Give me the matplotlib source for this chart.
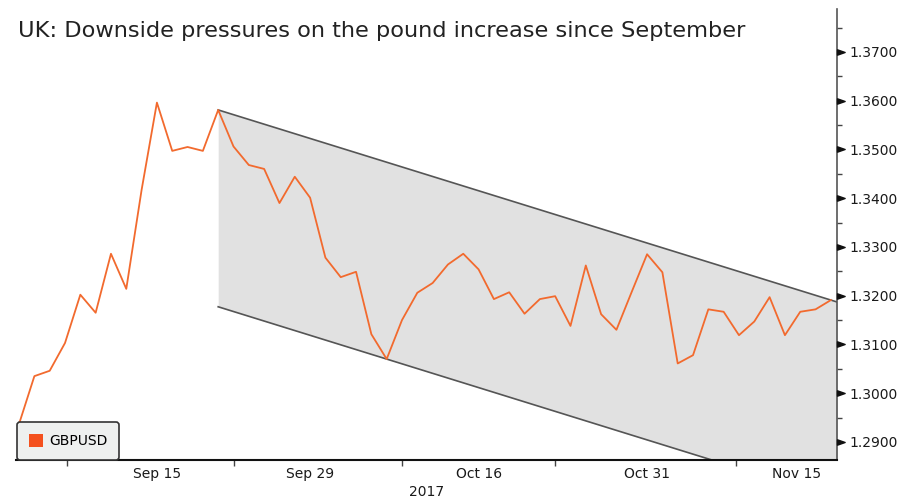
import matplotlib
matplotlib.use('Agg')
import matplotlib.pyplot as plt
import matplotlib.transforms as mtransforms
from matplotlib.path import Path
from matplotlib.patches import Patch
import numpy as np
import pandas as pd

# ---------------- data ----------------
dates = pd.bdate_range('2017-09-04', periods=54)
gbpusd = [1.2937, 1.3035, 1.3046, 1.3103, 1.3202, 1.3165, 1.3286, 1.3214, 1.3417, 1.3596,
          1.3497, 1.3505, 1.3497, 1.3581, 1.3506, 1.3468, 1.3460, 1.3390, 1.3444, 1.3401,
          1.3278, 1.3238, 1.3249, 1.3121, 1.3070, 1.3150, 1.3206, 1.3226, 1.3264, 1.3286,
          1.3254, 1.3193, 1.3207, 1.3163, 1.3193, 1.3199, 1.3138, 1.3262, 1.3162, 1.3130,
          1.3208, 1.3285, 1.3248, 1.3061, 1.3078, 1.3172, 1.3167, 1.3119, 1.3147, 1.3197,
          1.3119, 1.3167, 1.3172, 1.3191]
channel_start = '2017-09-21'
label_dates = ['2017-09-15', '2017-09-29', '2017-10-16', '2017-10-31', '2017-11-15']
label_texts = ['Sep 15', 'Sep 29', 'Oct 16', 'Oct 31', 'Nov 15']
sep_ticks = [3.1, 14.0, 25.0, 35.0, 46.8]
y_major = [1.29, 1.30, 1.31, 1.32, 1.33, 1.34, 1.35, 1.36, 1.37]
y_minor = [1.2950, 1.3050, 1.3150, 1.3250, 1.3350, 1.3450, 1.3550, 1.3650, 1.3750]
title = 'UK: Downside pressures on the pound increase since September'
series_name = 'GBPUSD'

# ---------------- figure ----------------
W, H = 912, 501
fig = plt.figure(figsize=(W / 100, H / 100), dpi=100)
ax = fig.add_axes([16 / W, 1 - 460 / H, (837 - 16) / W, (460 - 9) / H])

x = np.arange(len(gbpusd))
y = np.array(gbpusd)
xmin, xmax = -0.2, 53.4
ax.set_xlim(xmin, xmax)
ax.set_ylim(1.2863, 1.3788)

# channel: resistance from channel start to last close, parallel support through lowest residual
i0 = dates.get_loc(pd.Timestamp(channel_start))
i1 = len(y) - 1
slope = (y[i1] - y[i0]) / (i1 - i0)
seg_x = x[i0:]
resid = y[i0:] - (y[i0] + slope * (seg_x - i0))
offset = resid.min()
cx = np.array([i0, xmax])
upper = y[i0] + slope * (cx - i0)
lower = upper + offset
ax.fill_between(cx, lower, upper, color='#e1e1e1', zorder=1, lw=0)
ax.plot(cx, upper, color='#555555', lw=1.2, zorder=2)
ax.plot(cx, lower, color='#555555', lw=1.2, zorder=2)

# series
ax.plot(x, y, color='#f26a2e', lw=1.3, zorder=3)

# spines
for s in ['left', 'top']:
    ax.spines[s].set_visible(False)
ax.spines['right'].set_color('#555555')
ax.spines['right'].set_linewidth(1.2)
ax.spines['bottom'].set_color('#111111')
ax.spines['bottom'].set_linewidth(1.5)

# y axis (right)
ax.yaxis.tick_right()
ax.set_yticks(y_major)
ax.set_yticklabels([f'{v:.4f}' for v in y_major])
ax.set_yticks(y_minor, minor=True)
ax.tick_params(axis='y', which='major', length=0, pad=8.8, labelsize=10, labelcolor='#1a1a1a')
ax.tick_params(axis='y', which='minor', length=3.6, width=1.0, color='#444444')
tri = Path([(0, -0.35), (1, 0), (0, 0.35), (0, -0.35)],
           [Path.MOVETO, Path.LINETO, Path.LINETO, Path.CLOSEPOLY])
trans = mtransforms.blended_transform_factory(ax.transAxes, ax.transData)
ax.plot(np.ones(len(y_major)), y_major, transform=trans, marker=tri, ms=11,
        ls='none', color='#111111', clip_on=False, zorder=5)

# x axis
label_pos = [dates.get_loc(pd.Timestamp(d)) for d in label_dates]
ax.set_xticks(label_pos)
ax.set_xticklabels(label_texts)
ax.set_xticks(sep_ticks, minor=True)
ax.tick_params(axis='x', which='major', length=0, pad=5, labelsize=10, labelcolor='#1a1a1a')
ax.tick_params(axis='x', which='minor', length=4, width=1.0, color='#444444')
lab = ax.get_xticklabels()[-1]
lab.set_transform(lab.get_transform() + mtransforms.ScaledTranslation(-19 / 100, 0, fig.dpi_scale_trans))
ax.set_xlabel('2017', fontsize=10, color='#1a1a1a', labelpad=3)

# legend
leg = ax.legend(handles=[Patch(facecolor='#f4511e', edgecolor='none', label=series_name)],
                loc='lower left', bbox_to_anchor=(0.001, 0.0), borderaxespad=0,
                fontsize=10, frameon=True, fancybox=True, framealpha=1,
                facecolor='#eef0ef', edgecolor='#333333', handlelength=1.0,
                handleheight=1.0, handletextpad=0.45, borderpad=0.85)
leg.get_frame().set_linewidth(1.2)
leg.set_zorder(6)

# title
fig.text(18 / W, 1 - 31 / H, title, fontsize=16.2, color='#222222', va='center', ha='left')

fig.savefig('out.png', dpi=100)
